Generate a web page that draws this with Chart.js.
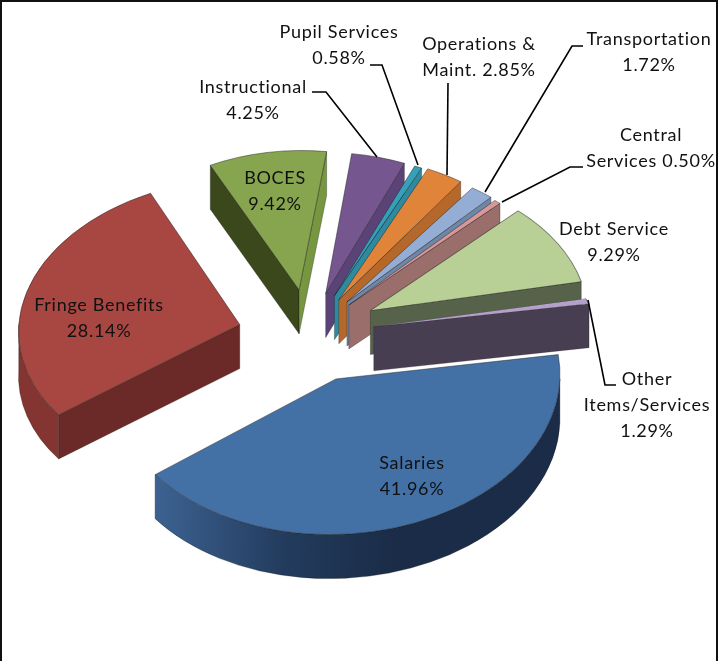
<!DOCTYPE html>
<html>
<head>
<meta charset="utf-8">
<script src="https://cdn.jsdelivr.net/npm/chart.js@4"></script>
<style>
  html, body { margin: 0; padding: 0; background: #fff; }
  #frame { position: absolute; left: 0; top: 0; width: 714px; height: 661px; border: solid #111; border-width: 2px 2px 0 2px; }
  canvas { position: absolute; left: 0; top: 0; }
</style>
</head>
<body>
<div id="frame"></div>
<canvas id="chart" width="728" height="661"></canvas>
<script>
const categories = ['Salaries', 'Fringe Benefits', 'BOCES', 'Instructional', 'Pupil Services',
  'Operations & Maint.', 'Transportation', 'Central Services', 'Debt Service', 'Other Items/Services'];
const shares = [41.96, 28.14, 9.42, 4.25, 0.58, 2.85, 1.72, 0.50, 9.29, 1.29];

const topColors = ['#4371a6', '#a84642', '#87a54f', '#75568f', '#35a0b8', '#e0843a', '#93add4', '#d79896', '#b8cf96', '#b5a0cb'];
const sideColors = ['#1a2c47', '#843531', '#76973f', '#5b4378', '#2f8a9f', '#b5682a', '#6e86a8', '#9a6e6b', '#56634a', '#483e52'];
const startWallColors = ['#1a2c47', '#6b2a27', '#3a481c', '#5b4378', '#2f8a9f', '#b5682a', '#6e86a8', '#9a6e6b', '#56634a', '#483e52'];

// pull-out and radius of each slice, the pie was drawn in perspective so they differ a bit
const explode = [65, 72, 65, 61, 61, 58, 60, 58, 70, 65];
const radii = [224, 221, 202, 205, 209, 213, 219, 222, 217, 218];
const squashes = [0.695, 0.665, 0.69, 0.688, 0.672, 0.676, 0.635, 0.625, 0.647, 0.3];
const shearX = [-0.03, -0.05, -0.01, 0, 0, 0, 0, 0, 0, 0];
const shearY = [0, 0, 0, 0, 0, 0, 0, 0, 0.02, -0.06];

const baseSquash = 0.72;
const depth = 44;

const labels = [
  { lines: ['Pupil Services', '0.58%'], x: 339, y: 32 },
  { lines: ['Operations &', 'Maint. 2.85%'], x: 479, y: 44 },
  { lines: ['Transportation', '1.72%'], x: 649, y: 39 },
  { lines: ['Instructional', '4.25%'], x: 253, y: 87 },
  { lines: ['Central', 'Services 0.50%'], x: 651, y: 135 },
  { lines: ['Debt Service', '9.29%'], x: 614, y: 229 },
  { lines: ['Other', 'Items/Services', '1.29%'], x: 647, y: 379 },
  { lines: ['Salaries', '41.96%'], x: 412, y: 463 },
  { lines: ['Fringe Benefits', '28.14%'], x: 99, y: 305 },
  { lines: ['BOCES', '9.42%'], x: 275, y: 178 }
];

const leaders = [
  [[312, 92], [326, 92], [377, 157]],
  [[370, 65], [382, 65], [418, 165]],
  [[448, 83], [447, 175]],
  [[583, 46], [572, 46], [485, 192]],
  [[583, 167], [570, 167], [502, 202]],
  [[588, 300], [605, 385], [616, 385]]
];

// walls are drawn in the slice's own unsquashed space, shifted so they hang straight down on screen
function drawWalls(ctx, arc, i) {
  const r = radii[i];
  const s = shearX[i];
  const h = depth / (squashes[i] - shearY[i] * s);
  const dx = -s * h;

  function wall(angle, color) {
    const ex = arc.x + Math.cos(angle) * r;
    const ey = arc.y + Math.sin(angle) * r;
    ctx.beginPath();
    ctx.moveTo(arc.x, arc.y);
    ctx.lineTo(ex, ey);
    ctx.lineTo(ex + dx, ey + h);
    ctx.lineTo(arc.x + dx, arc.y + h);
    ctx.closePath();
    ctx.fillStyle = color;
    ctx.fill();
    ctx.stroke();
  }

  ctx.lineWidth = 0.8;
  ctx.strokeStyle = 'rgba(20,20,20,0.45)';
  if (Math.cos(arc.startAngle) < 0) wall(arc.startAngle, startWallColors[i]);
  if (Math.cos(arc.endAngle) > 0) wall(arc.endAngle, sideColors[i]);

  const a0 = Math.max(arc.startAngle, 0);
  const a1 = Math.min(arc.endAngle, Math.PI);
  if (a0 < a1) {
    ctx.beginPath();
    ctx.arc(arc.x, arc.y, r, a0, a1);
    ctx.arc(arc.x + dx, arc.y + h, r, a1, a0, true);
    ctx.closePath();
    if (i === 0) {
      const g = ctx.createLinearGradient(129, 0, 375, 0);
      g.addColorStop(0, '#3e6494');
      g.addColorStop(0.55, '#233c5e');
      g.addColorStop(1, '#1a2c47');
      ctx.fillStyle = g;
    } else {
      ctx.fillStyle = sideColors[i];
    }
    ctx.fill();
    ctx.stroke();
  }
}

const pie3d = {
  id: 'pie3d',
  afterDatasetUpdate(chart) {
    chart.getDatasetMeta(0).data.forEach((arc, i) => { arc.outerRadius = radii[i]; });
  },
  beforeDatasetDraw(chart) {
    const ctx = chart.ctx;
    chart.getDatasetMeta(0).data.forEach((arc, i) => {
      const mid = (arc.startAngle + arc.endAngle) / 2;
      ctx.save();
      ctx.translate(arc.x + Math.cos(mid) * explode[i], arc.y + Math.sin(mid) * explode[i] * baseSquash);
      ctx.transform(1, shearY[i], shearX[i], squashes[i], 0, 0);
      ctx.translate(-arc.x, -arc.y);
      drawWalls(ctx, arc, i);
      arc.draw(ctx);
      ctx.restore();
    });
    return false;
  },
  afterDatasetsDraw(chart) {
    const ctx = chart.ctx;
    ctx.save();
    ctx.strokeStyle = '#000';
    ctx.lineWidth = 1.6;
    leaders.forEach(pts => {
      ctx.beginPath();
      pts.forEach((p, n) => n ? ctx.lineTo(p[0], p[1]) : ctx.moveTo(p[0], p[1]));
      ctx.stroke();
    });
    ctx.fillStyle = '#111';
    ctx.font = '18px Lato';
    ctx.letterSpacing = '0.7px';
    ctx.textAlign = 'center';
    ctx.textBaseline = 'middle';
    labels.forEach(l => {
      l.lines.forEach((t, n) => ctx.fillText(t, l.x, l.y + n * 26));
    });
    ctx.restore();
  }
};

new Chart(document.getElementById('chart'), {
  type: 'pie',
  data: {
    labels: categories,
    datasets: [{
      data: shares,
      backgroundColor: topColors,
      borderColor: 'rgba(30,30,30,0.55)',
      borderWidth: 1,
      radius: 224
    }]
  },
  options: {
    responsive: false,
    animation: false,
    rotation: 81,
    layout: { padding: { right: 108, top: 11 } },
    plugins: { legend: { display: false }, tooltip: { enabled: false } }
  },
  plugins: [pie3d]
});
</script>
</body>
</html>
